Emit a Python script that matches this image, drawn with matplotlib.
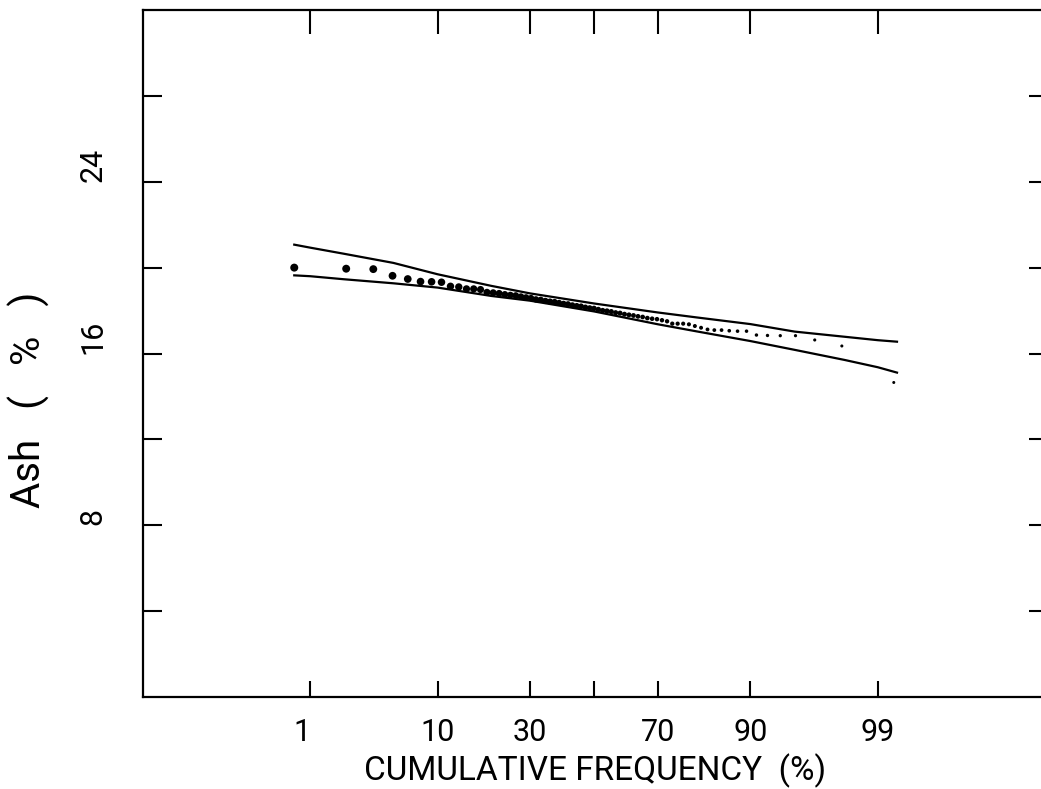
import numpy as np
import matplotlib
matplotlib.use("Agg")
import matplotlib.pyplot as plt
from statistics import NormalDist

# ---------------- data ----------------
cum_freq = [0.70, 2.11, 3.52, 4.93, 6.34, 7.75, 9.15, 10.56, 11.97, 13.38,
            14.79, 16.20, 17.61, 19.01, 20.42, 21.83, 23.24, 24.65, 26.06, 27.46,
            28.87, 30.28, 31.69, 33.10, 34.51, 35.92, 37.32, 38.73, 40.14, 41.55,
            42.96, 44.37, 45.77, 47.18, 48.59, 50.00, 51.41, 52.82, 54.23, 55.63,
            57.04, 58.45, 59.86, 61.27, 62.68, 64.08, 65.49, 66.90, 68.31, 69.72,
            71.13, 72.54, 73.94, 75.35, 76.76, 78.17, 79.58, 80.99, 82.39, 83.80,
            85.21, 86.62, 88.03, 89.44, 90.85, 92.25, 93.66, 95.07, 96.48, 97.89,
            99.30]
ash = [20.00, 19.95, 19.93, 19.62, 19.47, 19.35, 19.34, 19.32, 19.13, 19.10,
       19.01, 19.01, 18.98, 18.85, 18.83, 18.80, 18.75, 18.72, 18.70, 18.65,
       18.61, 18.58, 18.52, 18.50, 18.45, 18.42, 18.40, 18.36, 18.32, 18.30,
       18.25, 18.22, 18.20, 18.15, 18.12, 18.10, 18.05, 18.00, 17.98, 17.95,
       17.90, 17.88, 17.83, 17.80, 17.77, 17.73, 17.70, 17.65, 17.62, 17.60,
       17.55, 17.50, 17.39, 17.39, 17.39, 17.36, 17.28, 17.20, 17.12, 17.09,
       17.09, 17.06, 17.04, 17.04, 16.86, 16.84, 16.83, 16.83, 16.63, 16.35,
       14.65]

band_freq = [0.70, 1, 2, 5, 10, 20, 30, 50, 70, 80, 90, 95, 98, 99, 99.35]
band_upper = [21.07, 20.93, 20.65, 20.22, 19.69, 19.15, 18.80, 18.33, 17.91,
              17.68, 17.37, 17.02, 16.78, 16.62, 16.55]
band_lower = [19.64, 19.60, 19.46, 19.27, 19.07, 18.68, 18.46, 17.96, 17.36,
              17.03, 16.58, 16.17, 15.70, 15.36, 15.11]

x_ticks = [1, 10, 30, 50, 70, 90, 99]
x_ticklabels = ["1  ", "10", "30", "", "70", "90", "99"]
y_ticks = [4, 8, 12, 16, 20, 24, 28]
y_ticklabels = ["", "8", "", "16", "", "24", ""]

# ---------------- normal probability scale ----------------
_nd = NormalDist()
_ppf = np.vectorize(_nd.inv_cdf, otypes=[float])
_cdf = np.vectorize(_nd.cdf, otypes=[float])


def fwd(p):
    p = np.clip(np.asarray(p, dtype=float) / 100.0, 1e-12, 1 - 1e-12)
    return _ppf(p)


def inv(z):
    return _cdf(np.asarray(z, dtype=float)) * 100.0


FONT = "Roboto"
plt.rcParams["font.family"] = [FONT, "DejaVu Sans"]
plt.rcParams["font.weight"] = "normal"

W, H = 1041, 789
fig = plt.figure(figsize=(W / 100, H / 100), dpi=100)
L, R, T, B = 143, 1048, 10, 697
ax = fig.add_axes([L / W, (H - B) / H, (R - L) / W, (B - T) / H])

ax.set_xscale("function", functions=(fwd, inv))
ax.set_xlim(0.0109, 99.9901)
ax.set_ylim(0, 32)

# sizes shrink to the right as in the original
sizes_px = np.linspace(8.0, 3.0, len(ash))
ax.scatter(cum_freq, ash, s=(sizes_px * 0.72) ** 2, color="black",
           edgecolors="none", zorder=3)
ax.plot(band_freq, band_upper, color="black", lw=1.6)
ax.plot(band_freq, band_lower, color="black", lw=1.6)

for sp in ax.spines.values():
    sp.set_linewidth(1.6)

ax.set_xticks(x_ticks)
ax.set_xticklabels(x_ticklabels)
ax.xaxis.set_minor_locator(matplotlib.ticker.NullLocator())
ax.set_yticks(y_ticks)
ax.set_yticklabels(y_ticklabels)

ax.tick_params(axis="x", direction="in", bottom=True, top=True, length=11.5,
               width=1.5, pad=15, labelsize=22)
ax.tick_params(axis="y", direction="in", left=True, right=True, length=13.7,
               width=1.5, pad=36, labelsize=22)
for t in ax.xaxis.get_major_ticks():
    t.tick2line.set_markersize(17)
for lbl in ax.get_yticklabels():
    lbl.set_rotation(90)
    lbl.set_rotation_mode("anchor")
    lbl.set_horizontalalignment("left")
    lbl.set_verticalalignment("center")

ax.set_xlabel("CUMULATIVE FREQUENCY  (%)", fontsize=24, labelpad=5)
ax.set_ylabel("Ash   (   %   )", fontsize=29)
ax.yaxis.set_label_coords((29 - L) / (R - L), (B - 400) / (B - T))
ax.yaxis.label.set_verticalalignment("center")

fig.savefig("out.png", dpi=100)
